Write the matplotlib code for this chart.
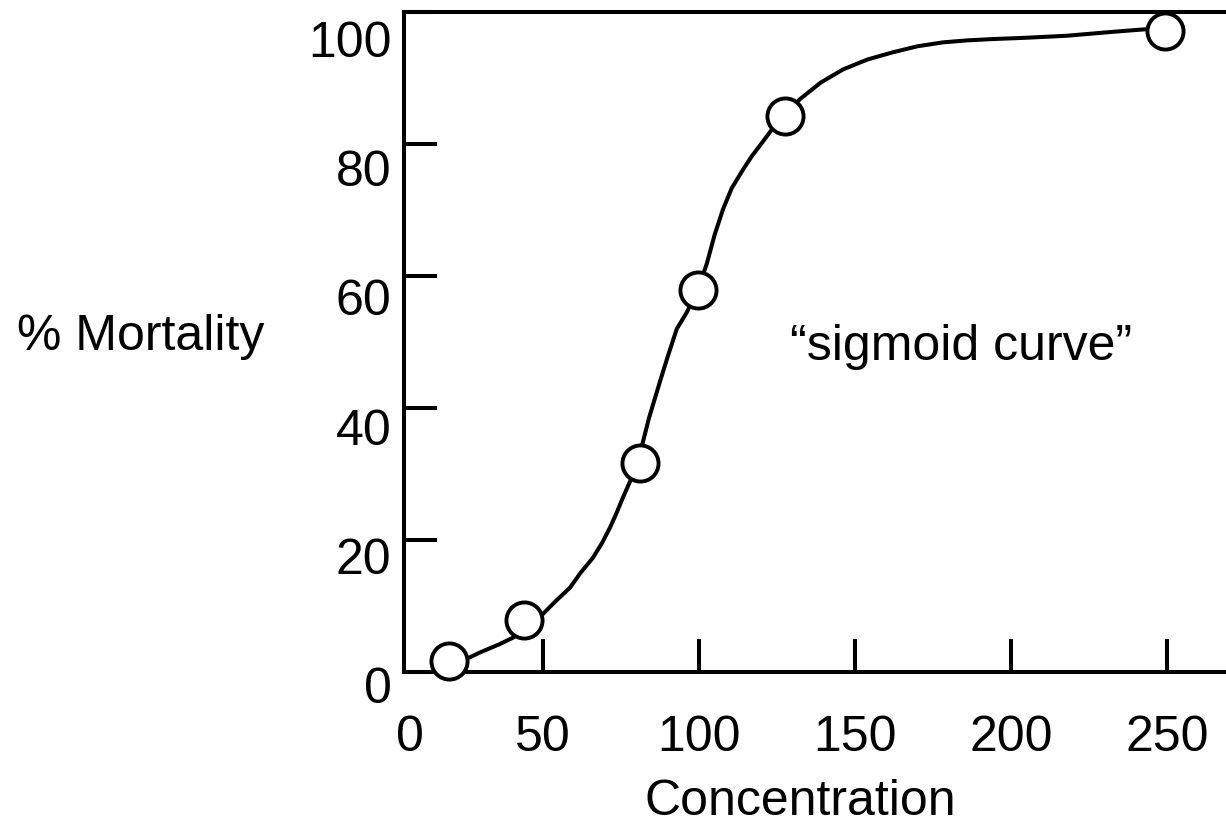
import matplotlib
matplotlib.use("Agg")
import matplotlib.pyplot as plt
import matplotlib.transforms as mtransforms

plt.rcParams['font.family'] = ['Liberation Sans', 'DejaVu Sans']

# Observed points (concentration, % mortality)
conc = [19.9, 43.9, 81.1, 99.7, 127.6, 249.4]
mortality = [1.7, 7.9, 31.6, 57.9, 84.2, 97.1]

# Fitted sigmoid curve
curve_x = [19.9, 26.0, 30.0, 36.0, 41.7, 46.0, 50.0, 54.0, 58.7, 62.0, 66.0, 69.0,
           71.5, 73.5, 75.6, 78.5, 81.1, 84.0, 87.5, 90.0, 92.9, 96.0, 99.7,
           102.6, 105.0, 107.7, 110.5, 114.1, 117.0, 119.6, 123.7, 128.2, 132.4,
           139.0, 146.2, 154.0, 162.2, 170.0, 178.2, 186.0, 194.2, 205.0, 217.9,
           232.7, 243.6, 249.4]
curve_y = [1.7, 2.1, 3.0, 4.2, 5.5, 7.0, 8.8, 10.7, 12.8, 15.0, 17.3, 19.6,
           21.9, 24.0, 26.4, 29.5, 33.1, 38.5, 44.0, 47.8, 52.0, 54.4, 57.9,
           62.0, 66.2, 70.1, 73.3, 76.1, 78.2, 79.8, 82.4, 84.8, 86.8,
           89.3, 91.3, 92.8, 93.9, 94.8, 95.4, 95.7, 95.9, 96.1, 96.4,
           97.0, 97.4, 97.1]

xtick_pos = [5.45, 50, 100, 150, 200, 250]
xtick_labels = ['0', '50', '100', '150', '200', '250']
ytick_pos = [0, 20, 40, 60, 80, 100]
ytick_labels = ['0', '20', '40', '60', '80', '100']

fs = 36
lw = 2.9
fig = plt.figure(figsize=(12.26, 8.24), dpi=100)
ax = fig.add_axes([404 / 1226, 1 - 672 / 824, 0.68, 660 / 824])

ax.plot(curve_x, curve_y, color='black', lw=lw, solid_capstyle='round',
        solid_joinstyle='round', zorder=2)
ax.plot(conc, mortality, 'o', ms=26, mfc='white', mec='black', mew=2.8,
        clip_on=False, zorder=3)

ax.set_xlim(5.45, 272.7)
ax.set_ylim(0, 100)

for side in ['left', 'bottom', 'top']:
    ax.spines[side].set_linewidth(lw)
ax.spines['right'].set_visible(False)

ax.set_xticks(xtick_pos)
ax.set_xticklabels(xtick_labels, fontsize=fs)
ax.set_yticks(ytick_pos)
ax.set_yticklabels(ytick_labels, fontsize=fs)
ax.tick_params(axis='x', direction='in', length=24, width=lw, pad=31)
ax.tick_params(axis='y', direction='in', length=24, width=lw, pad=9)
ax.xaxis.get_major_ticks()[0].tick1line.set_visible(False)

# the "0" sits a little right of the spine
lab0 = ax.get_xticklabels()[0]
lab0.set_transform(lab0.get_transform() + mtransforms.ScaledTranslation(0.06, 0, fig.dpi_scale_trans))

# y tick labels sit a bit below their ticks
for v, lab in zip(ytick_pos, ax.get_yticklabels()):
    dy = -(13 + 0.14 * v) / 100
    lab.set_transform(lab.get_transform() + mtransforms.ScaledTranslation(0, dy, fig.dpi_scale_trans))

ax.text(129.2, 47.3, '\u201csigmoid curve\u201d', fontsize=fs, ha='left', va='baseline')
fig.text(17 / 1226, 1 - 350 / 824, '% Mortality', fontsize=fs, ha='left', va='baseline')
fig.text(800 / 1226, 1 - 815 / 824, 'Concentration', fontsize=fs, ha='center', va='baseline')

fig.savefig('out.png', dpi=100)
